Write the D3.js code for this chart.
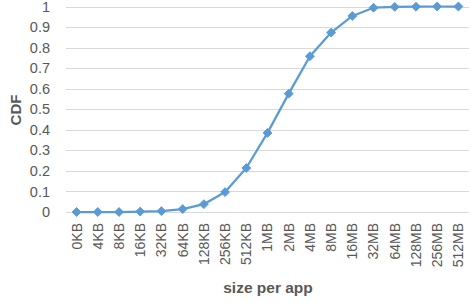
<!DOCTYPE html>
<html>
<head>
<meta charset="utf-8">
<script src="https://cdn.jsdelivr.net/npm/d3@7"></script>
<style>
  body { margin: 0; background: #fff; }
  text { font-family: "Liberation Sans", Arial, sans-serif; }
</style>
</head>
<body>
<div id="chart"></div>
<script>
var sizes = ["0KB", "4KB", "8KB", "16KB", "32KB", "64KB", "128KB", "256KB", "512KB",
             "1MB", "2MB", "4MB", "8MB", "16MB", "32MB", "64MB", "128MB", "256MB", "512MB"];
var cdf = [0, 0, 0, 0.002, 0.004, 0.014, 0.038, 0.097, 0.214,
           0.385, 0.576, 0.758, 0.873, 0.954, 0.994, 0.998, 0.999, 1, 1];
var yTicks = [0, 0.1, 0.2, 0.3, 0.4, 0.5, 0.6, 0.7, 0.8, 0.9, 1];

function CdfChart(id) {
    d3.select(id).select("svg").remove();

    var svg = d3.select(id)
                .append("svg")
                .attr("width", 470)
                .attr("height", 303);

    var x = d3.scaleBand()
                .domain(sizes)
                .range([66, 469]);

    var y = d3.scaleLinear()
                .domain([0, 1])
                .range([212, 6.5]);

    // grid lines
    svg.append("g")
        .selectAll("line")
        .data(yTicks)
        .enter()
        .append("line")
        .attr("x1", 66)
        .attr("x2", 469)
        .attr("y1", function(d) { return Math.round(y(d)) + 0.5; })
        .attr("y2", function(d) { return Math.round(y(d)) + 0.5; })
        .attr("stroke", "#d9d9d9")
        .attr("stroke-width", 1);

    // y axis labels
    var yAxis = svg.append("g")
        .attr("transform", "translate(66,0)")
        .call(d3.axisLeft(y).tickValues(yTicks).tickSize(0).tickPadding(16)
              .tickFormat(function(d) { return d3.format("~g")(d); }));
    yAxis.select(".domain").remove();
    yAxis.selectAll("text")
        .style("font-size", "14.5px")
        .style("font-family", "Liberation Sans")
        .attr("fill", "#595959");

    // x axis labels
    var xAxis = svg.append("g")
        .attr("transform", "translate(0,212)")
        .call(d3.axisBottom(x).tickSize(0));
    xAxis.select(".domain").remove();
    xAxis.selectAll("text")
        .attr("transform", "rotate(-90)")
        .attr("x", -11)
        .attr("y", 0)
        .attr("dy", "0.35em")
        .style("text-anchor", "end")
        .style("font-size", "14px")
        .style("font-family", "Liberation Sans")
        .attr("fill", "#595959");

    // line
    var line = d3.line()
        .x(function(d, i) { return x(sizes[i]) + x.bandwidth() / 2; })
        .y(function(d) { return y(d); });

    svg.append("path")
        .datum(cdf)
        .attr("d", line)
        .attr("fill", "none")
        .attr("stroke", "#5b9bd5")
        .attr("stroke-width", 2.25)
        .attr("stroke-linejoin", "round");

    // markers
    svg.selectAll(".marker")
        .data(cdf)
        .enter()
        .append("path")
        .attr("class", "marker")
        .attr("d", d3.symbol().type(d3.symbolDiamond2).size(50))
        .attr("transform", function(d, i) {
            return "translate(" + (x(sizes[i]) + x.bandwidth() / 2) + "," + y(d) + ")";
        })
        .attr("fill", "#5b9bd5")
        .attr("stroke", "#5b9bd5")
        .attr("stroke-width", 1);

    // axis titles
    svg.append("text")
        .attr("text-anchor", "middle")
        .attr("transform", "translate(21,110)rotate(-90)")
        .text("CDF")
        .style("font-size", "15px")
        .style("font-weight", "bold")
        .attr("fill", "#595959");

    svg.append("text")
        .attr("text-anchor", "middle")
        .attr("x", 268)
        .attr("y", 293)
        .text("size per app")
        .style("font-size", "15.5px")
        .style("font-weight", "bold")
        .attr("fill", "#595959");
}

CdfChart("#chart");
</script>
</body>
</html>
